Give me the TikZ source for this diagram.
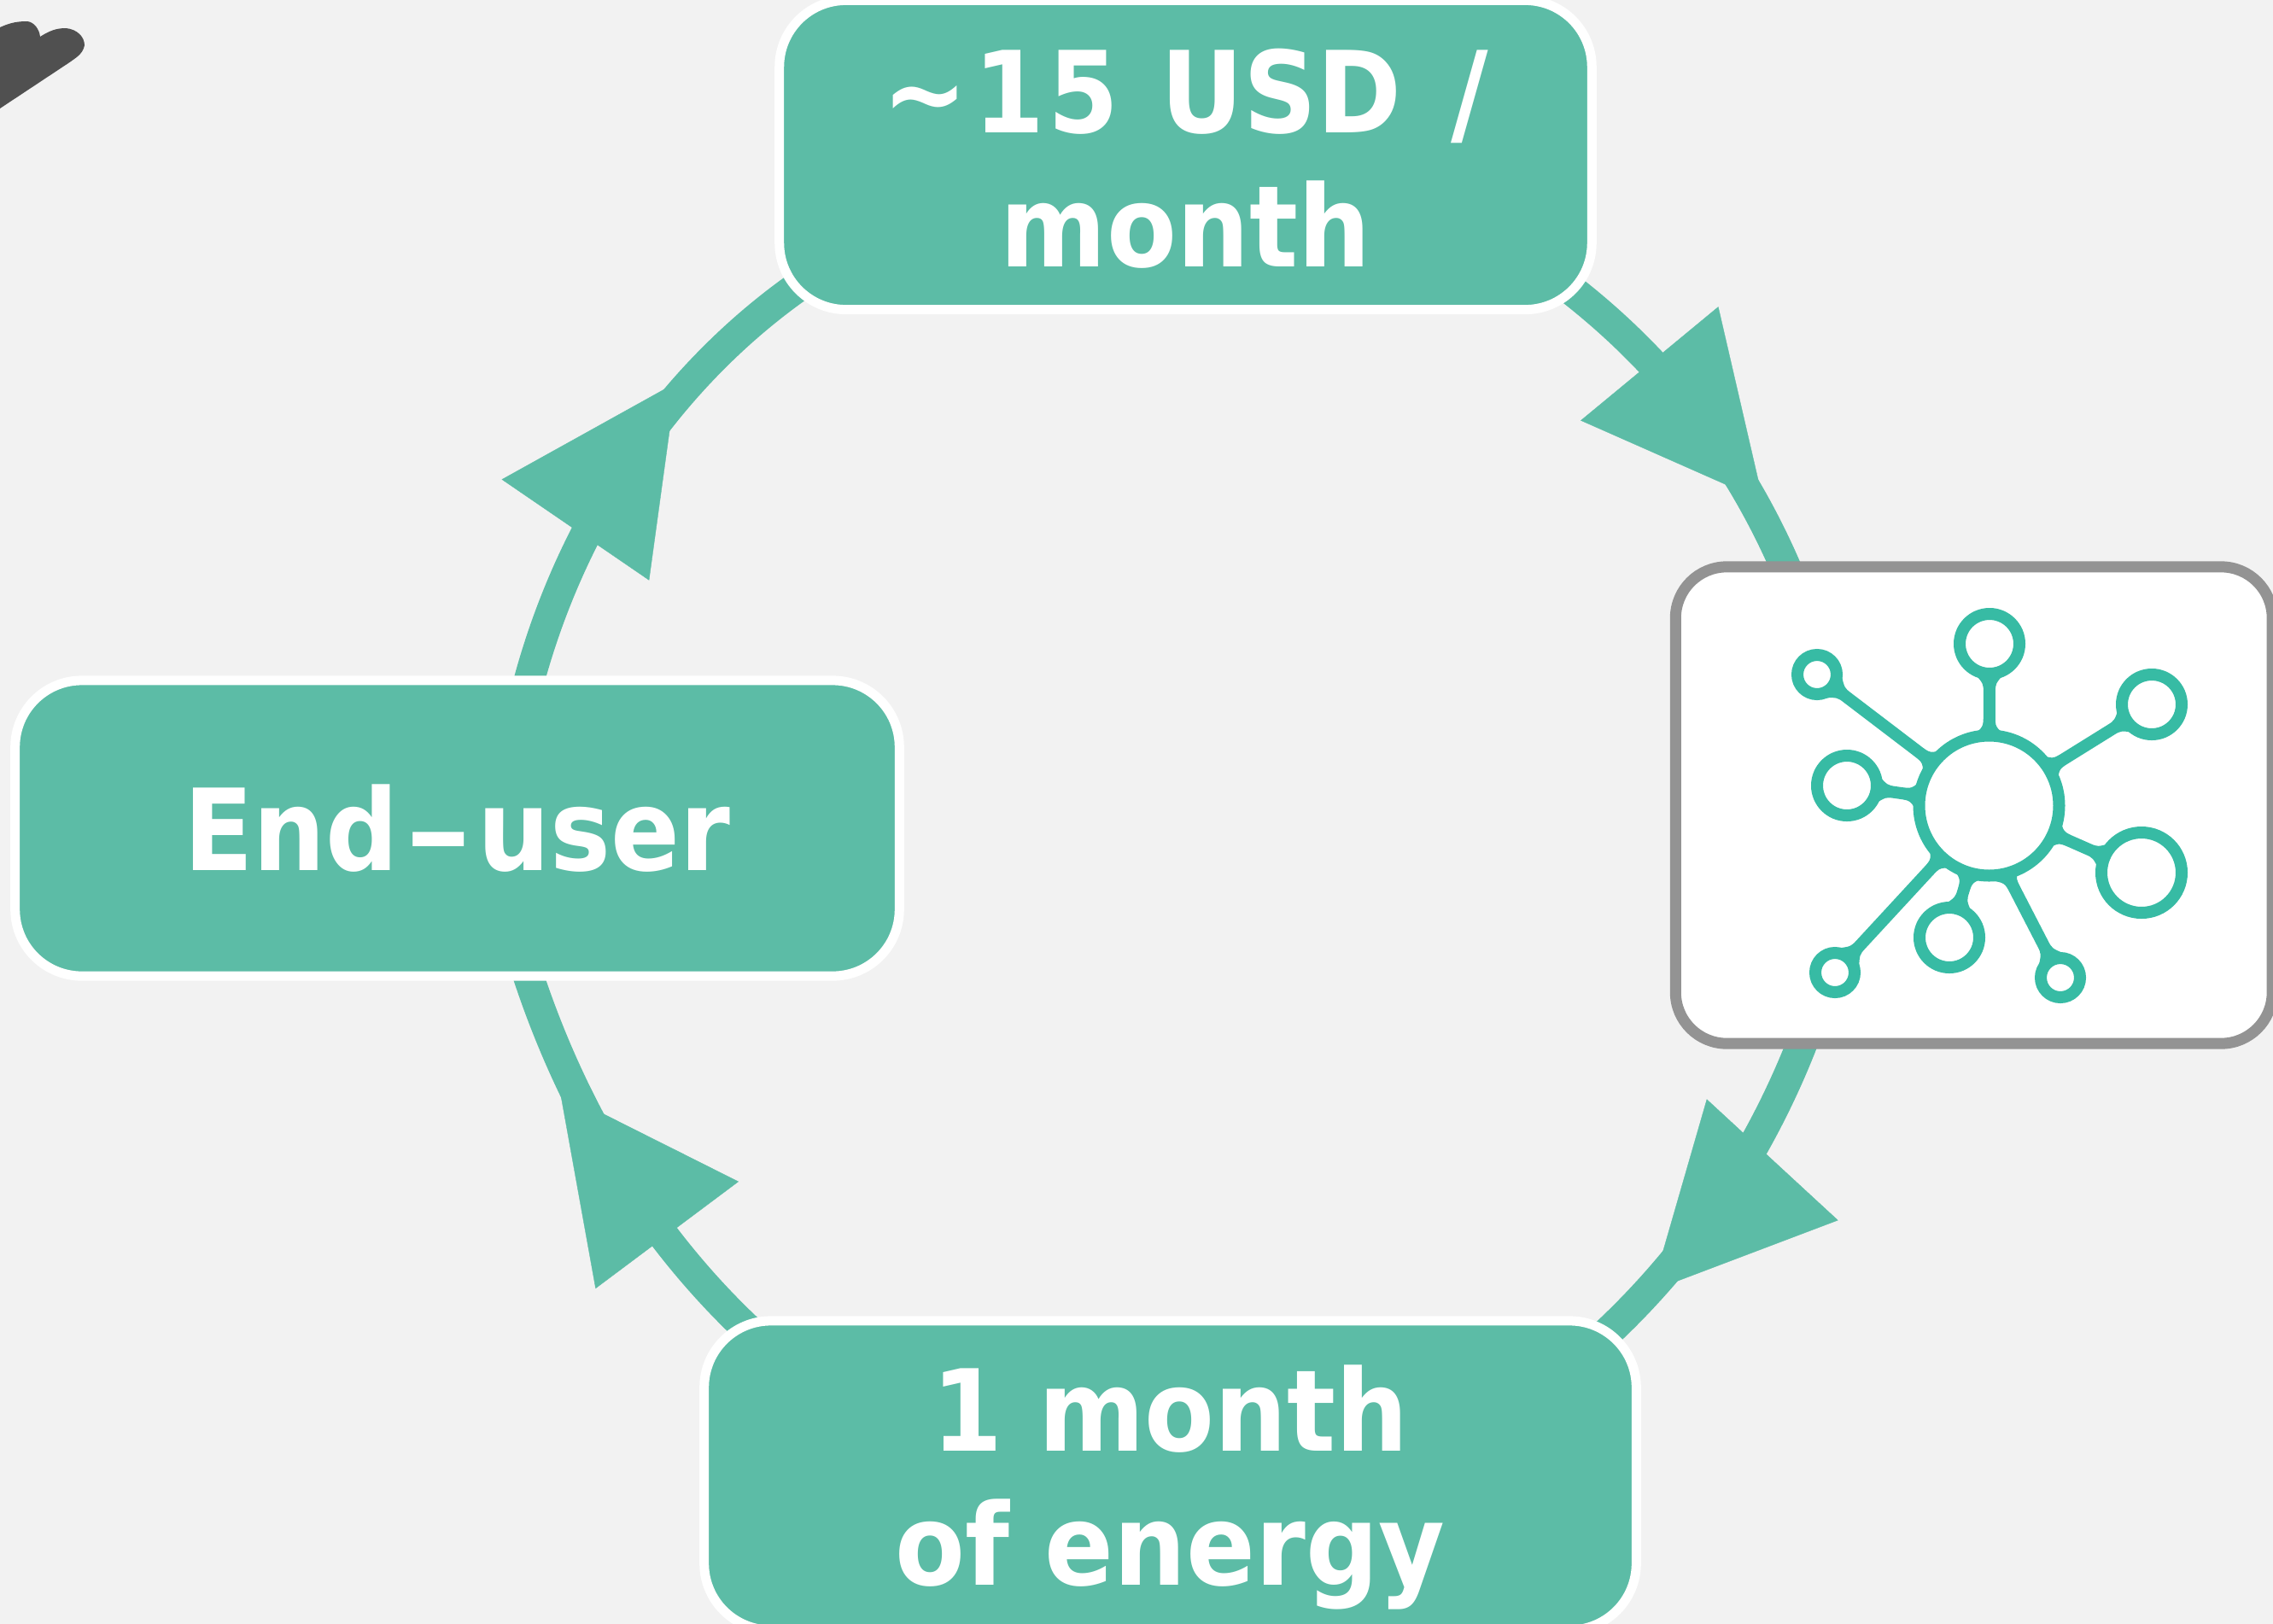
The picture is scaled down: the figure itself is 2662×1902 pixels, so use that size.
\documentclass[tikz,border=0pt]{standalone}
\usepackage{graphicx}
\usepackage{fontspec}
\setmainfont{DejaVu Sans}[FakeStretch=0.9]
\usetikzlibrary{arrows.meta,backgrounds,calc}
\definecolor{bgc}{HTML}{F2F2F2}
\definecolor{boxc}{HTML}{5CBCA6}
\definecolor{iconc}{HTML}{37BBA4}
\definecolor{framec}{HTML}{939393}
\definecolor{blobc}{HTML}{505050}
\tikzset{
  box/.style={rectangle,draw=white,fill=boxc,line width=0.11cm,rounded corners=0.78cm,
    inner sep=0pt,outer sep=0pt,text=white,align=center,
    font=\fontsize{37.7}{44.67}\selectfont\bfseries},
  iconbox/.style={rectangle,draw=framec,fill=white,line width=0.13cm,rounded corners=0.6cm,
    inner sep=0pt,outer sep=0pt},
  band/.style={draw=boxc,line width=0.36cm,line cap=butt},
  head/.style={draw=boxc,fill=boxc,line width=0.1pt,-{Triangle[length=2.09cm,width=2.09cm]}},
  sat/.style={draw=iconc,fill=white,line width=0.14cm},
}
% spoke of the icon: satellite x, y, radius; target x, y; stop short of the target by d
\newcommand\iconspoke[6]{%
  \pgfmathsetmacro\spkDX{#4-#1}%
  \pgfmathsetmacro\spkDY{#5-#2}%
  \pgfmathsetmacro\spkAng{atan2(-\spkDY,\spkDX)}%
  \pgfmathsetmacro\spkEnd{veclen(\spkDX,\spkDY)-#6}%
  \begin{scope}[shift={(#1,#2)},rotate=\spkAng]
    \fill[iconc] (#3,17) .. controls ({#3+12},7) .. ({#3+22},7)
      -- ({\spkEnd-24},7) .. controls ({\spkEnd-10},7) .. (\spkEnd,20)
      -- (\spkEnd,-20) .. controls ({\spkEnd-10},-7) .. ({\spkEnd-24},-7)
      -- ({#3+22},-7) .. controls ({#3+12},-7) .. (#3,-17) -- cycle;
  \end{scope}}
\begin{document}
\begin{tikzpicture}[x=0.01cm,y=-0.01cm]
\useasboundingbox (0,0) rectangle (2662,1902);
% boxes
\node[box,minimum width=9.51cm,minimum height=3.62cm] (nprice) at (1388.5,181.5)
  {\rule{0pt}{1.06cm}\textasciitilde\kern2pt 1\kern1pt 5\kern2.3pt\ USD\kern4.8pt\ /\\month};
\node[iconbox,minimum width=6.985cm,minimum height=5.58cm] (nicon) at (2311.75,943) {};
\node[box,minimum width=10.91cm,minimum height=3.62cm] (nenergy) at (1370.5,1728)
  {\rule{0pt}{1.28cm}1 month\\of energy};
\node[box,minimum width=10.35cm,minimum height=3.46cm] (nuser) at (535.5,970)
  {End\kern2.3pt\scalebox{1.28}[1]{–}\kern2.3pt user};
% connector ends, tied to the boxes
\coordinate (s1) at ([shift={(-49,-42)}]nprice.south east);
\coordinate (e1) at ([shift={(137.5,21)}]nicon.north west);
\coordinate (s2) at ([shift={(160,-32)}]nicon.south west);
\coordinate (e2) at ([shift={(-46,25)}]nenergy.north east);
\coordinate (s3) at ([shift={(65,23)}]nenergy.north west);
\coordinate (e3) at ([shift={(77.5,-18)}]nuser.south);
\coordinate (s4) at ([shift={(79.5,18)}]nuser.north);
\coordinate (e4) at ([shift={(37,-37.5)}]nprice.south west);
\coordinate (hb1) at (1931.5,425.5); \coordinate (ht1) at (2065,587);
\coordinate (hb2) at (2076,1358); \coordinate (ht2) at (1934,1512);
\coordinate (hb3) at (780.5,1445.5); \coordinate (ht3) at (656,1279);
\coordinate (hb4) at (676,617.5); \coordinate (ht4) at (792,448);
\begin{scope}[on background layer]
  \fill[bgc] (0,0) rectangle (2662,1902);
  \fill[blobc] (0,32) .. controls (13,26) and (22,25) .. (32,25) .. controls (40,26) and (46,34) .. (47,43)
     .. controls (58,36) and (66,33) .. (77,33) .. controls (90,34) and (99,43) .. (99,53)
     .. controls (97,63) and (90,67) .. (80,74) -- (0,127) -- cycle;
  \draw[band] (s1) .. controls (1944,414) and (2040,537) .. (e1);
  \draw[band] (s2) .. controls (2071,1336) and (1985,1468) .. (e2);
  \draw[band] (s3) .. controls (758,1451) and (666,1294) .. (e3);
  \draw[band] (s4) .. controls (666,611) and (786,435) .. (e4);
  \draw[head] (hb1) -- (ht1);
  \draw[head] (hb2) -- (ht2);
  \draw[head] (hb3) -- (ht3);
  \draw[head] (hb4) -- (ht4);
\end{scope}
% icon
\iconspoke{2330}{754}{35}{2329.5}{943.5}{82}
\iconspoke{2520}{825}{35}{2329.5}{943.5}{82}
\iconspoke{2508}{1022}{47}{2329.5}{943.5}{82}
\iconspoke{2283}{1098}{35}{2329.5}{943.5}{82}
\iconspoke{2149}{1139}{23}{2329.5}{943.5}{82}
\iconspoke{2128}{790}{23}{2329.5}{943.5}{82}
\iconspoke{2163}{920}{35}{2329.5}{943.5}{82}
\iconspoke{2413}{1145}{23}{2349.5}{1022}{0}
\draw[sat] (2329.5,943.5) circle[radius=82];
\foreach \p/\q/\r in {2330/754/35,2520/825/35,2508/1022/47,2283/1098/35,2413/1145/23,2149/1139/23,2128/790/23,2163/920/35}
  \draw[sat] (\p,\q) circle[radius=\r];
\end{tikzpicture}
\end{document}
